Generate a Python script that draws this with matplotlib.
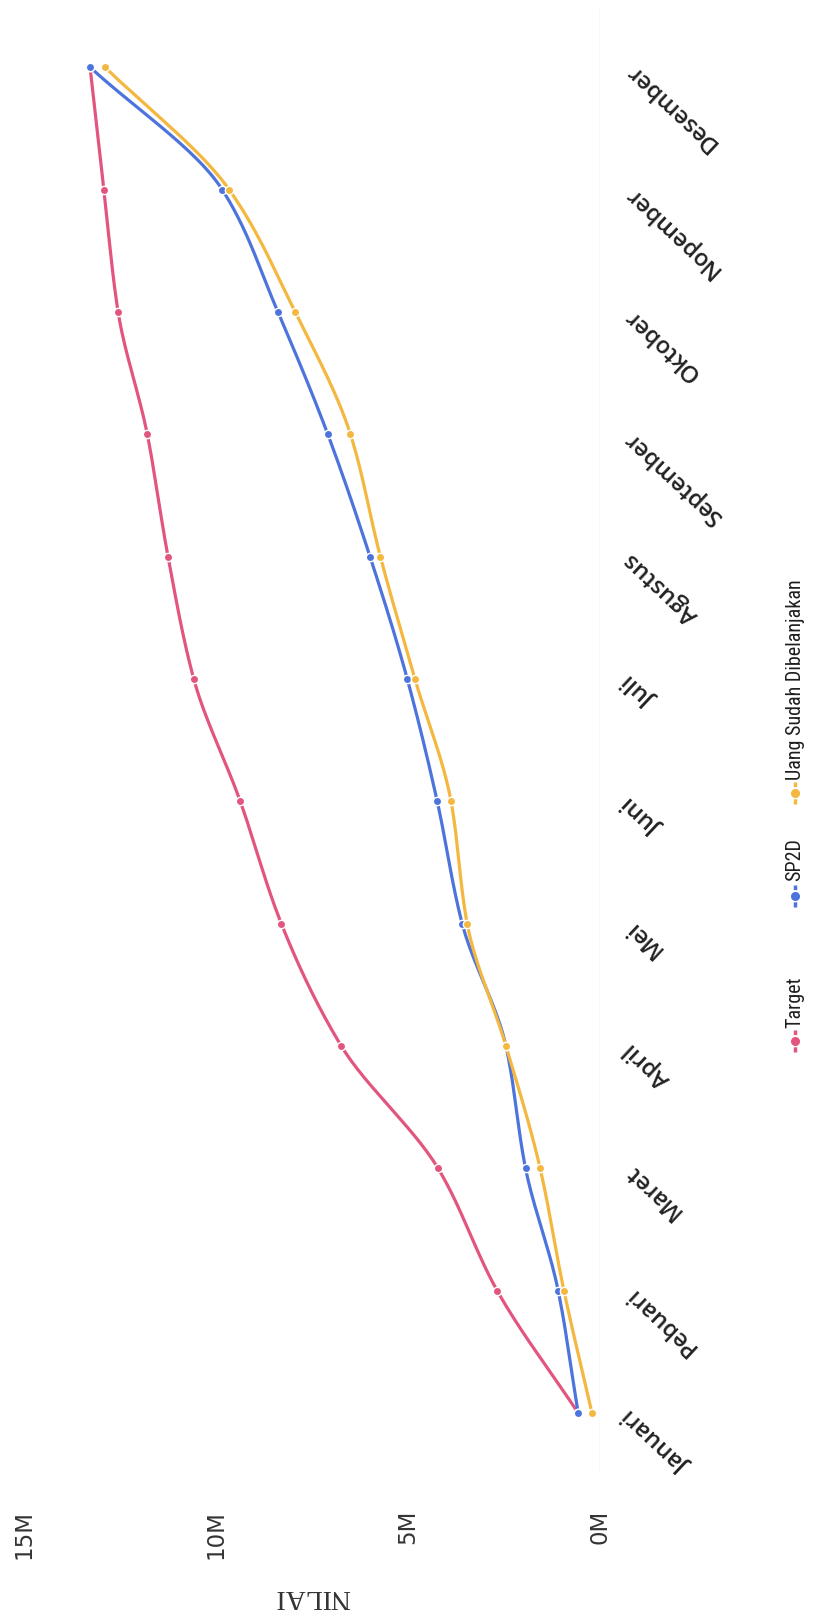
import numpy as np
import matplotlib
matplotlib.use("Agg")
import matplotlib.pyplot as plt
from matplotlib.lines import Line2D
from matplotlib import font_manager

# Monthly realisation figures (in millions)
months = ["Januari", "Pebuari", "Maret", "April", "Mei", "Juni",
          "Juli", "Agustus", "September", "Oktober", "Nopember", "Desember"]
target = [0.57, 2.68, 4.22, 6.74, 8.30, 9.37, 10.58, 11.25, 11.79, 12.55, 12.92, 13.28]
sp2d = [0.57, 1.09, 1.94, 2.45, 3.59, 4.24, 5.02, 5.99, 7.09, 8.39, 9.84, 13.28]
uang = [0.21, 0.94, 1.56, 2.45, 3.46, 3.88, 4.82, 5.72, 6.50, 7.94, 9.66, 12.89]
value_ticks = [0, 5, 10, 15]
value_labels = ["0M", "5M", "10M", "15M"]
series_names = ["Target", "SP2D", "Uang Sudah Dibelanjakan"]
colors = ["#e2557f", "#4d74dc", "#f4b73f"]


def pchip(x, y, n=30):
    """Monotone cubic interpolation used to draw smooth curves."""
    x = np.asarray(x, float)
    y = np.asarray(y, float)
    h = np.diff(x)
    d = np.diff(y) / h
    m = np.zeros_like(y)
    for k in range(1, len(y) - 1):
        if d[k - 1] * d[k] > 0:
            w1 = 2 * h[k] + h[k - 1]
            w2 = h[k] + 2 * h[k - 1]
            m[k] = (w1 + w2) / (w1 / d[k - 1] + w2 / d[k])
    m[0] = d[0]
    m[-1] = d[-1]
    xs, ys = [], []
    for k in range(len(h)):
        t = np.linspace(0, 1, n, endpoint=(k == len(h) - 1))
        h00 = 2 * t**3 - 3 * t**2 + 1
        h10 = t**3 - 2 * t**2 + t
        h01 = -2 * t**3 + 3 * t**2
        h11 = t**3 - t**2
        xs.append(x[k] + t * h[k])
        ys.append(h00 * y[k] + h10 * h[k] * m[k] + h01 * y[k + 1] + h11 * h[k] * m[k + 1])
    return np.concatenate(xs), np.concatenate(ys)


# Prefer a narrow face for the legend when one is available
installed = {f.name for f in font_manager.fontManager.ttflist}
narrow = [n for n in ["Noto Sans Condensed", "Roboto Condensed", "Open Sans Condensed",
                      "Liberation Sans Narrow"] if n in installed]
legend_family = narrow[:1] + ["Roboto", "DejaVu Sans"]
legend_size = 14.5 if narrow else 13

W, H = 813, 1616
fig = plt.figure(figsize=(W / 100, H / 100), dpi=100)
fig.patch.set_facecolor("white")
ax = fig.add_axes([24 / W, 1 - 1474 / H, (600 - 24) / W, (1474 - 6) / H])

idx = np.arange(len(months))
for vals, col in zip([target, sp2d, uang], colors):
    xs, ys = pchip(idx, vals)
    ax.plot(ys, xs, color=col, lw=2.3, solid_capstyle="round", zorder=3)
    ax.plot(vals, idx, ls="none", marker="o", ms=6, mfc=col, mec="white", mew=1.0, zorder=4)

ax.set_xlim(15, 0)
ax.set_ylim(-0.5, len(months) - 0.5)
ax.axvline(0, color="#dfe3ec", lw=1.0, zorder=1)

for s in ax.spines.values():
    s.set_visible(False)

ax.set_xticks(value_ticks)
ax.set_xticklabels(value_labels, rotation=90, fontsize=16.5, color="#333333",
                   family="DejaVu Sans", va="top", ha="center")
ax.tick_params(axis="x", length=0, pad=26)

ax.yaxis.tick_right()
ax.set_yticks(idx)
ax.set_yticklabels(months, rotation=137, rotation_mode="anchor", ha="right", va="center",
                   fontsize=17, fontweight="semibold", color="#222222", family="Open Sans")
ax.tick_params(axis="y", length=0, pad=20)

fig.text(312 / W, 1 - 1596 / H, "NILAI", rotation=180, ha="center", va="center",
         fontsize=20, color="#333333", family="Liberation Serif")

# Legend, stacked along the right edge
leg_x = 795
leg_items = [(1041, 1028), (896, 881), (793, 780)]
for (my, ty), name, col in zip(leg_items, series_names, colors):
    fx = leg_x / W
    fig.add_artist(Line2D([fx, fx], [1 - (my + 11) / H, 1 - (my - 11) / H],
                          transform=fig.transFigure, color=col, lw=2.5, ls=(0, (1.5, 1))))
    fig.add_artist(Line2D([fx], [1 - my / H], transform=fig.transFigure,
                          marker="o", ms=5.5, color=col, ls="none"))
    fig.text(fx, 1 - ty / H, name, rotation=90, ha="center", va="bottom",
             fontsize=legend_size, color="#1e1e1e", family=legend_family)

fig.savefig("out.png", dpi=100, facecolor="white")
